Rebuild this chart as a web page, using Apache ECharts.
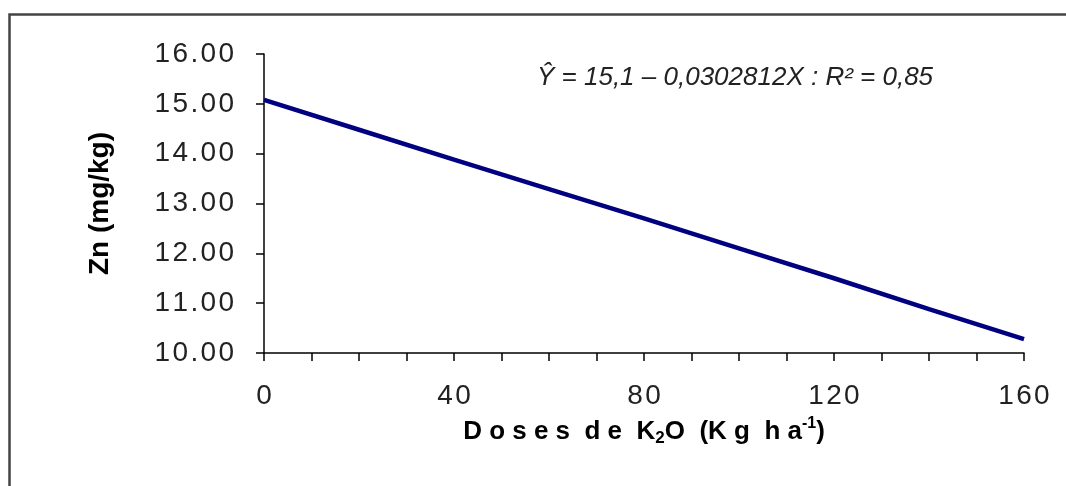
<!DOCTYPE html>
<html><head><meta charset="utf-8">
<script src="https://cdn.jsdelivr.net/npm/echarts@6/dist/echarts.min.js"></script>
<style>html,body{margin:0;padding:0;background:#fff}#c{width:1066px;height:486px}</style>
</head><body><div id="c"></div>
<script>
const doses = [0, 20, 40, 60, 80, 100, 120, 140, 160];
const zn = [15.08, 14.48, 13.88, 13.29, 12.70, 12.10, 11.50, 10.88, 10.28];
const yTicks = [10, 16, 1];
const xTicks = [0, 160, 40];
const equation = 'Ŷ = 15,1 – 0,0302812X : R² = 0,85';
const yName = 'Zn (mg/kg)';

const HS = '\u200A';
const spaced = s => s.split('').join(HS);

const chart = echarts.init(document.getElementById('c'), null, {renderer: 'canvas'});
chart.setOption({
  animation: false,
  backgroundColor: '#fff',
  grid: {left: 264, right: 42, top: 54, bottom: 133, containLabel: false},
  xAxis: {
    type: 'value', min: xTicks[0], max: xTicks[1], interval: xTicks[2],
    axisLine: {lineStyle: {color: '#000', width: 1.5}},
    axisTick: {show: true, length: 8, lineStyle: {color: '#000', width: 1.5}},
    minorTick: {show: true, splitNumber: 4, length: 8, lineStyle: {color: '#000', width: 1.5}},
    splitLine: {show: false},
    axisLabel: {margin: 29, color: '#222', fontFamily: 'Liberation Sans', fontSize: 28,
      formatter: v => spaced(String(v))},
    name: 'D o s e s  d e  K{sub|2}O  (K g  h a{sup|-1})',
    nameLocation: 'middle', nameGap: 63, nameMoveOverlap: false,
    nameTextStyle: {color: '#000', fontFamily: 'Liberation Sans', fontWeight: 'bold', fontSize: 26,
      rich: {sub: {fontSize: 17, fontWeight: 'bold', verticalAlign: 'bottom', padding: [14, 0, 0, 0], fontFamily: 'Liberation Sans'},
             sup: {fontSize: 16, fontWeight: 'bold', verticalAlign: 'top', padding: [0, 0, 12, 0], fontFamily: 'Liberation Sans'}}}
  },
  yAxis: {
    type: 'value', min: yTicks[0], max: yTicks[1], interval: yTicks[2],
    axisLine: {show: true, lineStyle: {color: '#000', width: 1.5}},
    axisTick: {show: true, length: 8, lineStyle: {color: '#000', width: 1.5}},
    splitLine: {show: false},
    axisLabel: {margin: 30, color: '#222', fontFamily: 'Liberation Sans', fontSize: 28,
      formatter: v => spaced(v.toFixed(2))},
    name: yName, nameLocation: 'middle', nameGap: 150, nameRotate: 90, nameMoveOverlap: false,
    nameTextStyle: {color: '#000', fontFamily: 'Liberation Sans', fontWeight: 'bold', fontSize: 28}
  },
  graphic: [
    {type: 'rect', left: 7, top: 12, shape: {width: 1100, height: 600},
     style: {fill: 'none', stroke: '#444', lineWidth: 2.5}, silent: true},
    {type: 'text', left: 537, top: 65,
     style: {text: equation, font: 'italic 26px "Liberation Sans"', fill: '#222'}}
  ],
  series: [{
    type: 'line', data: doses.map((d, i) => [d, zn[i]]),
    showSymbol: false, smooth: false,
    lineStyle: {color: '#000080', width: 4.5}
  }]
});
</script></body></html>
